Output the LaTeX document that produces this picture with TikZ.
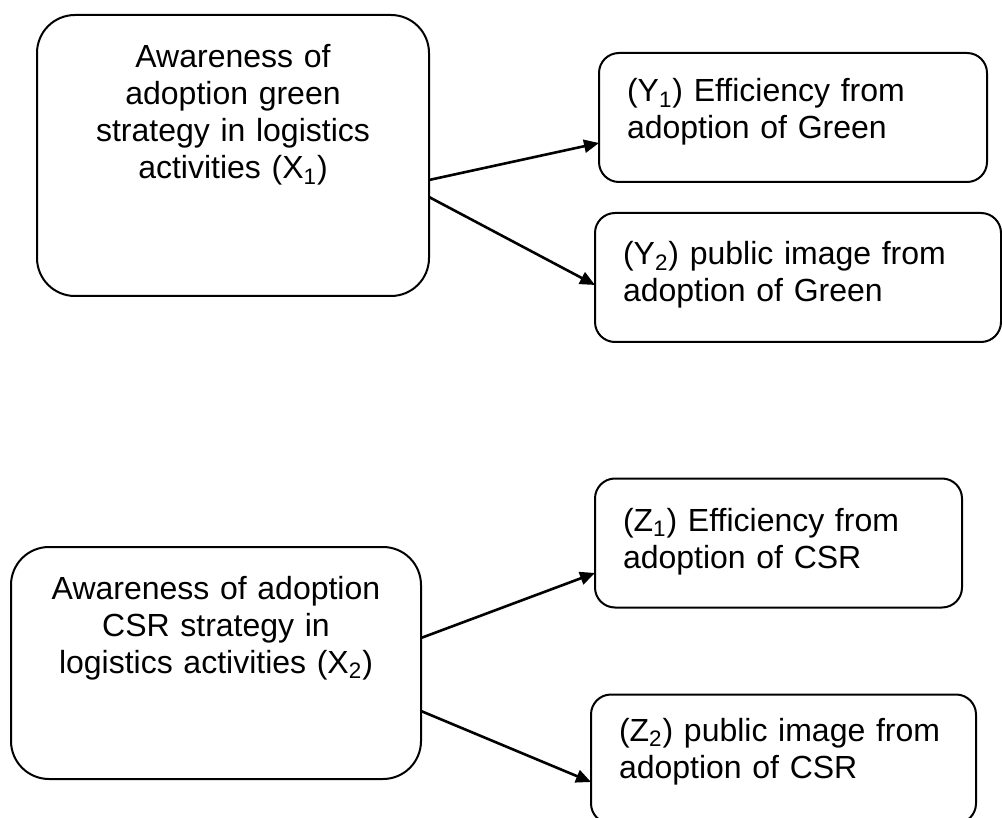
\documentclass[tikz,border=0pt]{standalone}
\usepackage{fontspec}
\setmainfont{Liberation Sans}
\usetikzlibrary{arrows.meta, positioning}

\begin{document}
\begin{tikzpicture}[
                every node/.style={inner sep=0pt, outer sep=0pt},
                bigbox/.style={draw, line width=1pt, rounded corners=19pt},
                smallbox/.style={draw, line width=1pt, rounded corners=10pt, minimum height=64.5pt},
                boxtext/.style={font=\fontsize{16}{18.5}\selectfont},
                link/.style={->, line width=1.3pt},
                >={Triangle[length=7.5pt, width=6.5pt]}
            ]

            \useasboundingbox (0,0) rectangle (501pt,-409pt);

            % green strategy
            \node[bigbox, minimum width=196pt, minimum height=140.5pt] (x1) at (116.5pt,-77.75pt) {};
            \node[smallbox, minimum width=194pt] (y1) at (396.5pt,-58.75pt) {};
            \node[smallbox, minimum width=203pt] (y2) at (399pt,-138.75pt) {};

            \node[boxtext, text width=196pt, align=center, anchor=base] (x1text) at ([yshift=-26.5pt]x1.north)
                {Awareness of\\adoption green\\strategy in logistics\\activities (X\textsubscript{1})};
            \node[boxtext, text width=180pt, align=left, anchor=base west] (y1text) at ([xshift=14pt, yshift=-24.5pt]y1.north west)
                {(Y\textsubscript{1}) Efficiency from\\adoption of Green};
            \node[boxtext, text width=185pt, align=left, anchor=base west] (y2text) at ([xshift=14pt, yshift=-26pt]y2.north west)
                {(Y\textsubscript{2}) public image from\\adoption of Green};

            \draw[link] ([yshift=-12.25pt]x1.east) -- ([yshift=-12.75pt]y1.west);
            \draw[link] ([yshift=-20.75pt]x1.east) -- ([yshift=-3.75pt]y2.west);

            % CSR strategy
            \node[bigbox, minimum width=205pt, minimum height=116pt] (x2) at (108pt,-331.5pt) {};
            \node[smallbox, minimum width=183.5pt] (z1) at (389.25pt,-271.5pt) {};
            \node[smallbox, minimum width=192.5pt] (z2) at (391.75pt,-379.5pt) {};

            \node[boxtext, text width=205pt, align=center, anchor=base] (x2text) at ([yshift=-26pt]x2.north)
                {Awareness of adoption\\CSR strategy in\\logistics activities (X\textsubscript{2})};
            \node[boxtext, text width=170pt, align=left, anchor=base west] (z1text) at ([xshift=14pt, yshift=-26.5pt]z1.north west)
                {(Z\textsubscript{1}) Efficiency from\\adoption of CSR};
            \node[boxtext, text width=180pt, align=left, anchor=base west] (z2text) at ([xshift=14pt, yshift=-23.5pt]z2.north west)
                {(Z\textsubscript{2}) public image from\\adoption of CSR};

            \draw[link] ([yshift=12.5pt]x2.east) -- ([yshift=-15pt]z1.west);
            \draw[link] ([yshift=-24pt]x2.east) -- ([yshift=-11.5pt]z2.west);

        \end{tikzpicture}
\end{document}
